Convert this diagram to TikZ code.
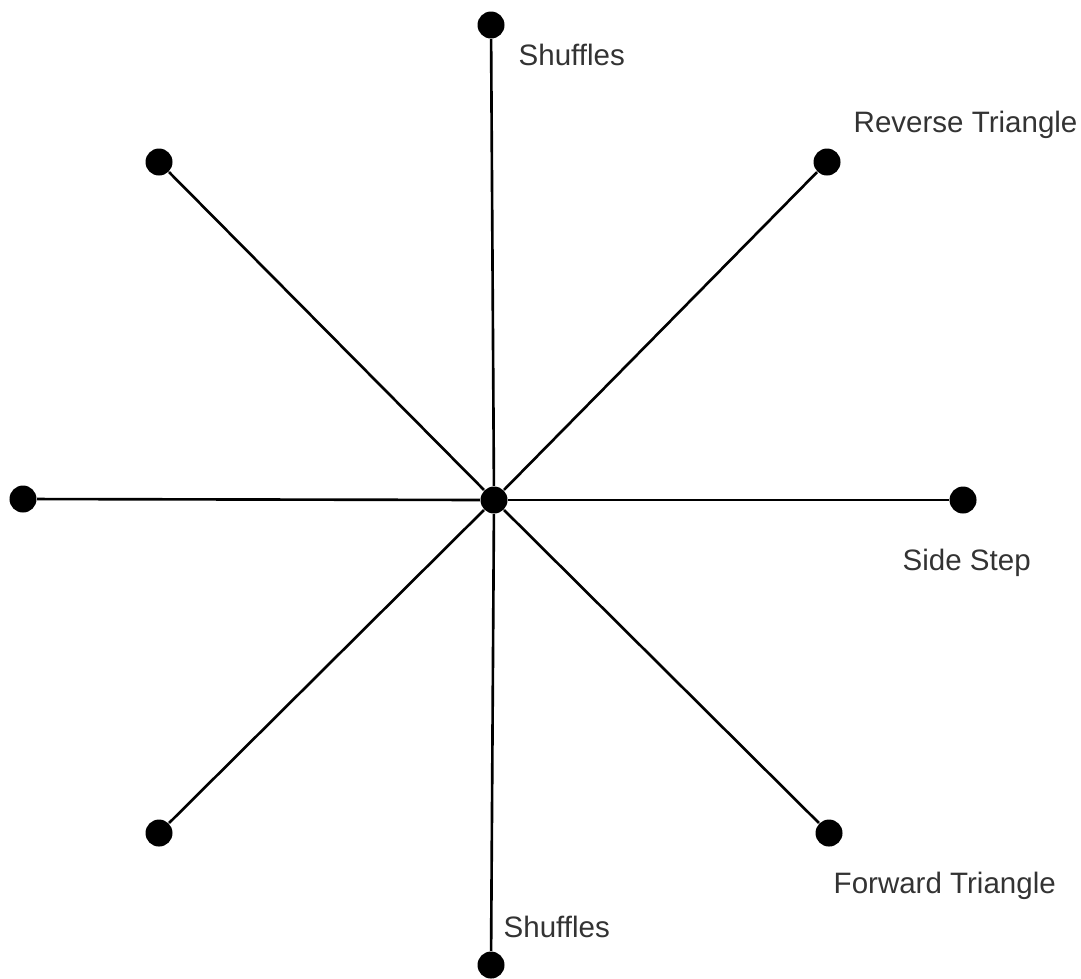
\documentclass[tikz,border=0pt]{standalone}
\usepackage{fontspec}
\setmainfont{Liberation Sans}
\usetikzlibrary{positioning}

\begin{document}
\begin{tikzpicture}[dot/.style={circle, fill, inner sep=0pt, minimum size=2.7mm},
  lbl/.style={anchor=base west, inner sep=0pt, font=\fontsize{8.4}{10}\selectfont, text=black!80},
  spoke/.style={line width=0.75pt}]
\useasboundingbox (0,0) rectangle (10.81,-9.78);
\node[dot] (c) at (4.94,-5.00) {};
\node[dot] (n) at (4.91,-0.25) {};
\node[dot] (s) at (4.91,-9.65) {};
\node[dot] (w) at (0.23,-4.99) {};
\node[dot] (e) at (9.63,-5.00) {};
\node[dot] (nw) at (1.59,-1.62) {};
\node[dot] (ne) at (8.27,-1.62) {};
\node[dot] (sw) at (1.59,-8.33) {};
\node[dot] (se) at (8.29,-8.33) {};

\foreach \d in {n,s,w,e,nw,ne,sw,se}
  \draw[spoke] (c) -- (\d);

\node[lbl] (shufn) at (5.18,-0.65) {Shuffles};
\node[lbl] (rtri) at (8.53,-1.32) {Reverse Triangle};
\node[lbl] (side) at (9.02,-5.70) {Side Step};
\node[lbl] (ftri) at (8.33,-8.93) {Forward Triangle};
\node[lbl] (shufs) at (5.03,-9.37) {Shuffles};
\end{tikzpicture}
\end{document}
